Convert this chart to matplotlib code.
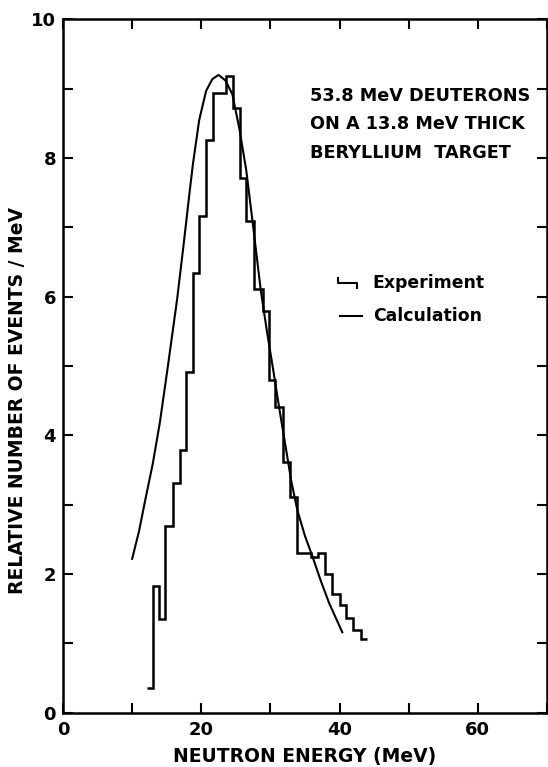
import numpy as np
import matplotlib
matplotlib.use("Agg")
import matplotlib.pyplot as plt
from matplotlib.ticker import MultipleLocator

# histogram (experiment): bin edges (MeV) and heights
exp_edges = [12.1, 13.0, 13.9, 14.8, 15.9, 16.9, 17.8, 18.8, 19.7, 20.7, 21.7,
             23.55, 24.65, 25.6, 26.5, 27.6, 28.9, 29.8, 30.7, 31.8, 32.9,
             33.9, 35.9, 36.9, 37.9, 38.9, 40.0, 41.0, 42.0, 43.1, 44.0]
exp_counts = [0.36, 1.83, 1.35, 2.69, 3.31, 3.79, 4.91, 6.35, 7.16, 8.26, 8.94,
              9.19, 8.72, 7.71, 7.09, 6.11, 5.80, 4.80, 4.41, 3.61, 3.11,
              2.31, 2.24, 2.31, 2.00, 1.71, 1.55, 1.36, 1.20, 1.06]

# calculation curve
calc_e = [10.0, 11.0, 11.9, 13.0, 14.0, 15.2, 16.5, 17.5, 18.3, 18.8, 19.7,
          20.7, 21.6, 22.5, 23.5, 24.5, 25.5, 26.5, 27.4, 28.6, 29.5, 30.4,
          31.3, 32.2, 33.0, 33.9, 35.0, 36.1, 37.3, 38.5, 39.5, 40.4]
calc_v = [2.22, 2.62, 3.07, 3.6, 4.18, 5.02, 5.96, 6.8, 7.5, 7.92, 8.55,
          8.97, 9.14, 9.2, 9.12, 8.92, 8.43, 7.83, 7.1, 6.1, 5.5, 4.95,
          4.38, 3.84, 3.35, 2.92, 2.55, 2.25, 1.9, 1.58, 1.36, 1.16]

plt.rcParams['font.family'] = ['DejaVu Sans']
plt.rcParams['font.weight'] = 'bold'

fig = plt.figure(figsize=(5.48, 7.67), dpi=100)
ax = fig.add_axes([0.115, 0.0708, 0.883, 0.9038])

ax.stairs(exp_counts, exp_edges, baseline=None, color='black', lw=1.8)
ax.plot(calc_e, calc_v, color='black', lw=1.5)

ax.set_xlim(0, 70)
ax.set_ylim(0, 10)
ax.xaxis.set_major_locator(MultipleLocator(20))
ax.xaxis.set_minor_locator(MultipleLocator(10))
ax.yaxis.set_major_locator(MultipleLocator(2))
ax.yaxis.set_minor_locator(MultipleLocator(1))
ax.tick_params(which='both', direction='in', top=True, right=True,
               width=1.5, labelsize=13, length=7)
ax.tick_params(axis='x', pad=6)
ax.tick_params(axis='y', pad=5)
for s in ax.spines.values():
    s.set_linewidth(1.8)

ax.set_xlabel('NEUTRON ENERGY (MeV)', fontsize=13.5, fontweight='bold', labelpad=6)
ax.set_ylabel('RELATIVE NUMBER OF EVENTS / MeV', fontsize=13.5, fontweight='bold')
ax.yaxis.set_label_coords(-0.074, 0.45)

ax.text(0.51, 0.903, '53.8 MeV DEUTERONS\nON A 13.8 MeV THICK\nBERYLLIUM  TARGET',
        transform=ax.transAxes, fontsize=12.7, fontweight='bold',
        va='top', ha='left', linespacing=1.75)

# legend drawn by hand
ax.plot([0.568, 0.568, 0.608, 0.608], [0.627, 0.620, 0.620, 0.613],
        transform=ax.transAxes, color='black', lw=1.5)
ax.text(0.64, 0.620, 'Experiment', transform=ax.transAxes, fontsize=12.4,
        fontweight='bold', va='center')
ax.plot([0.572, 0.618], [0.572, 0.572], transform=ax.transAxes,
        color='black', lw=1.5)
ax.text(0.64, 0.572, 'Calculation', transform=ax.transAxes, fontsize=12.4,
        fontweight='bold', va='center')

fig.savefig('out.png', dpi=100)
